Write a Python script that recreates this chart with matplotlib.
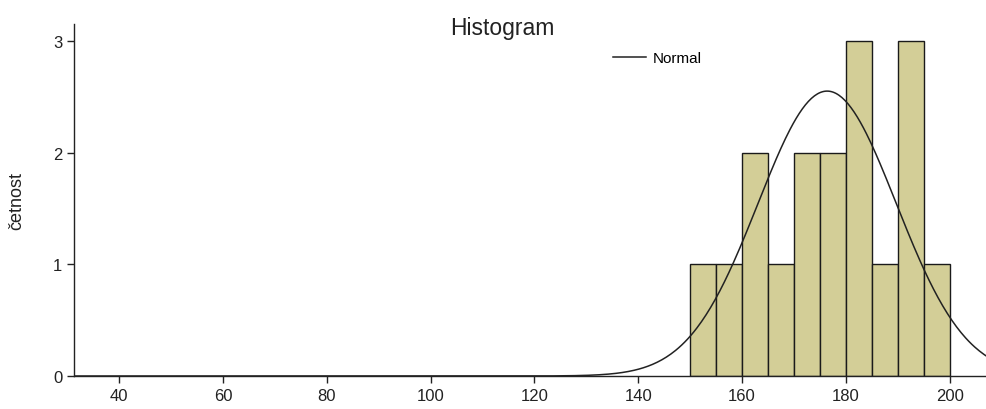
import numpy as np
import matplotlib
matplotlib.use("Agg")
import matplotlib.pyplot as plt

plt.rcParams["font.family"] = ["Liberation Sans", "DejaVu Sans"]

# hranice razredov in četnosti
hranice = [150, 155, 160, 165, 170, 175, 180, 185, 190, 195, 200]
cetnosti = [1, 1, 2, 1, 2, 2, 3, 1, 3, 1]
# parametri normalne krivulje (ocenjeno s slike)
povprecje = 176.4
std_odklon = 13.3
x_ticki = [40, 60, 80, 100, 120, 140, 160, 180, 200]
y_ticki = [0, 1, 2, 3]


def graf():
    fig = plt.figure(figsize=(9.87, 4.10), dpi=100)
    ax = fig.add_axes([0.075, 0.0805, 0.925, 0.8585])

    sirine = np.diff(hranice)
    ax.bar(hranice[:-1], cetnosti, width=sirine, align="edge",
           color="#D3CE97", edgecolor="#1a1a1a", linewidth=1.0, zorder=2)

    n = sum(cetnosti)
    w = sirine[0]
    xs = np.linspace(31, 207.2, 600)
    ys = n * w / (std_odklon * np.sqrt(2 * np.pi)) * np.exp(-0.5 * ((xs - povprecje) / std_odklon) ** 2)
    ax.plot(xs, ys, color="#222222", linewidth=1.1, label="Normal", zorder=3)

    ax.set_xlim(31.3, 207.2)
    ax.set_ylim(0, 3.15)
    ax.set_xticks(x_ticki)
    ax.set_yticks(y_ticki)
    ax.tick_params(direction="out", length=5, width=1, labelsize=12, colors="#222222")
    for s in ["top", "right"]:
        ax.spines[s].set_visible(False)
    for s in ["left", "bottom"]:
        ax.spines[s].set_color("#222222")
        ax.spines[s].set_linewidth(1)

    ax.set_ylabel("četnost", fontsize=13, color="#222222", labelpad=20)
    fig.text(0.5085, 0.93, "Histogram", ha="center", va="center", fontsize=16.5, color="#222222")

    ax.legend(loc="center left", bbox_to_anchor=(0.607, 0.855), bbox_transform=fig.transFigure,
              frameon=False, fontsize=11, handlelength=2.2, handletextpad=0.4)

    fig.savefig("out.png", dpi=100)
    plt.close(fig)


if __name__ == "__main__":
    graf()
